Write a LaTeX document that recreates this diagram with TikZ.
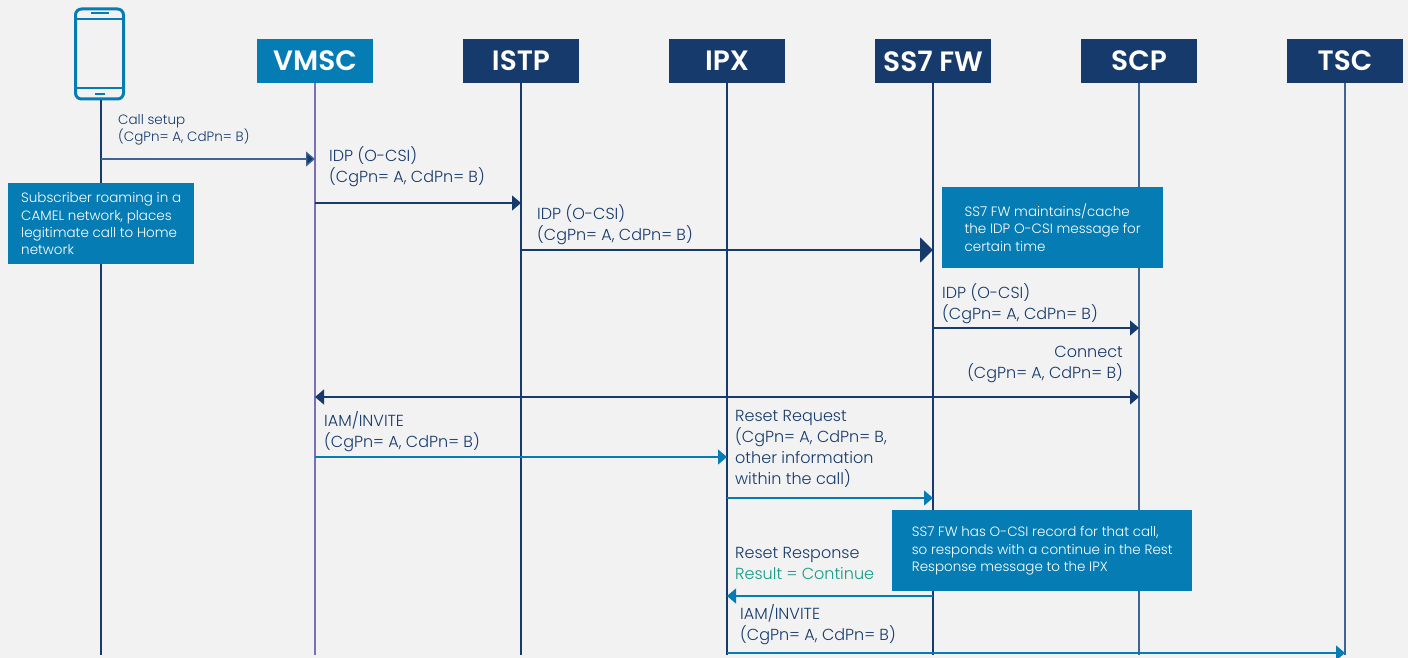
\documentclass[tikz,border=0pt]{standalone}
\usepackage{fontspec}
\setmainfont{Poppins}[UprightFont=* Light,BoldFont=* SemiBold]
\usepackage{xcolor}
\usepackage{tikz}
\usetikzlibrary{arrows.meta}
\definecolor{paper}{HTML}{F2F2F2}
\definecolor{navy}{HTML}{163A6B}
\definecolor{teal}{HTML}{057DB4}
\definecolor{violet}{HTML}{7B6FB8}
\definecolor{slate}{HTML}{3F6490}
\definecolor{green}{HTML}{149A84}
\tikzset{
  head/.style={fill=navy, text=white, minimum width=116pt, minimum height=44pt, inner sep=0pt, font=\fontsize{28}{30}\selectfont\bfseries},
  life/.style={draw=navy, line width=1.2pt},
  msg/.style={draw=navy, line width=1.3pt, -{Triangle[length=9pt,width=15pt]}},
  msgb/.style={draw=teal, line width=1.3pt, -{Triangle[length=9pt,width=15pt]}},
  lab/.style={text=navy, align=left, inner sep=0pt, font=\fontsize{16}{21}\selectfont},
  labs/.style={text=navy, align=left, inner sep=0pt, font=\fontsize{13.5}{17.5}\selectfont},
  note/.style={fill=teal, text=white, align=left, anchor=north west, inner ysep=0pt, font=\fontsize{13.5}{17.4}\selectfont},
}
\begin{document}
\begin{tikzpicture}[x=1pt,y=-1pt]
  \fill[paper] (0,0) rectangle (1408,658);
  \useasboundingbox (0,0) rectangle (1408,658);
  % heads
  \node[draw=teal, line width=3pt, rounded corners=6pt, minimum width=48pt, minimum height=90pt, inner sep=0pt] (phone) at (99.5,54) {};
  \node[head, fill=teal] (vmsc) at (315,61) {VMSC};
  \node[head] (istp) at (521,61) {ISTP};
  \node[head] (ipx) at (727,61) {IPX};
  \node[head] (fw) at (933,61) {SS7 FW};
  \node[head] (scp) at (1139,61) {SCP};
  \node[head] (tsc) at (1345,61) {TSC};
  % phone details
  \coordinate (pa1) at (75,19);
  \coordinate (pa2) at (124,19);
  \coordinate (pb1) at (75,88);
  \coordinate (pb2) at (124,88);
  \coordinate (pc1) at (91,13.5);
  \coordinate (pc2) at (109,13.5);
  \coordinate (pd1) at (95,94.5);
  \coordinate (pd2) at (105,94.5);
  \draw[teal, line width=2pt] (pa1)--(pa2);
  \draw[teal, line width=2pt] (pb1)--(pb2);
  \draw[teal, line width=2pt] (pc1)--(pc2);
  \draw[teal, line width=2pt] (pd1)--(pd2);
  % lifelines
  \coordinate (endp) at (101,655);
  \coordinate (endv) at (315,655);
  \coordinate (endi) at (521,655);
  \coordinate (endx) at (727,655);
  \coordinate (endf) at (933,655);
  \coordinate (ends) at (1139,655);
  \coordinate (endt) at (1345,655);
  \draw[life] (phone.south -| endp)--(endp);
  \draw[life, draw=violet, line width=1.6pt] (vmsc)--(endv);
  \draw[life] (istp)--(endi);
  \draw[life] (ipx)--(endx);
  \draw[life] (fw)--(endf);
  \draw[life, draw=slate] (scp)--(ends);
  \draw[life, draw=slate] (tsc)--(endt);
  \fill[teal] (vmsc.north west) rectangle (vmsc.south east);
  \node[head, fill=teal] at (vmsc) {VMSC};
  % messages
  \coordinate (m1a) at (101,159);
  \coordinate (m1b) at (315,159);
  \coordinate (m2a) at (315,203);
  \coordinate (m2b) at (521,203);
  \coordinate (m3a) at (521,250);
  \coordinate (m3b) at (933,250);
  \coordinate (m4a) at (933,328);
  \coordinate (m4b) at (1139,328);
  \coordinate (m5a) at (315,397);
  \coordinate (m5b) at (1139,397);
  \coordinate (m6a) at (315,457);
  \coordinate (m6b) at (727,457);
  \coordinate (m7a) at (727,498);
  \coordinate (m7b) at (933,498);
  \coordinate (m8a) at (933,596);
  \coordinate (m8b) at (727,596);
  \coordinate (m9a) at (727,653);
  \coordinate (m9b) at (1345,653);
  \draw[msg, draw=slate, -{Triangle[length=9pt,width=15pt,fill=navy]}] (m1a)--(m1b);
  \draw[msg] (m2a)--(m2b);
  \draw[msg, line width=2pt, -{Triangle[length=13pt,width=25pt]}] (m3a)--(m3b);
  \draw[msg] (m4a)--(m4b);
  \draw[msg, {Triangle[length=9pt,width=15pt]}-{Triangle[length=9pt,width=15pt]}] (m5a)--(m5b);
  \draw[msgb] (m6a)--(m6b);
  \draw[msgb] (m7a)--(m7b);
  \draw[msgb] (m8a)--(m8b);
  \draw[msgb] (m9a)--(m9b);
  % labels
  \node[labs, anchor=west] (l1) at (118,130) {Call setup\\(CgPn= A, CdPn= B)};
  \node[lab, anchor=west] (l2) at (329,167) {IDP (O-CSI)\\(CgPn= A, CdPn= B)};
  \node[lab, anchor=west] (l3) at (537,225) {IDP (O-CSI)\\(CgPn= A, CdPn= B)};
  \node[lab, anchor=west] (l4) at (942,304) {IDP (O-CSI)\\(CgPn= A, CdPn= B)};
  \node[lab, anchor=east, align=right] (l5) at (1123,364) {Connect\\(CgPn= A, CdPn= B)};
  \node[lab, anchor=west] (l6) at (324,432) {IAM/INVITE\\(CgPn= A, CdPn= B)};
  \node[lab, anchor=west] (l7) at (735,449) {Reset Request\\(CgPn= A, CdPn= B,\\other information\\within the call)};
  \node[lab, anchor=west] (l8) at (735,563) {Reset Response\\\textcolor{green}{Result = Continue}};
  \node[lab, anchor=west] (l9) at (740,625) {IAM/INVITE\\(CgPn= A, CdPn= B)};
  % notes
  \node[note, inner xsep=8pt, minimum width=186pt, minimum height=81pt] (n1) at (8,183) {Subscriber roaming in a\\CAMEL network, places\\legitimate call to Home\\network};
  \node[note, inner xsep=14pt, minimum width=221pt, minimum height=81pt] (n2) at (942,187) {SS7 FW maintains/cache\\the IDP O-CSI message for\\certain time};
  \node[note, inner xsep=15pt, minimum width=300pt, minimum height=81pt] (n3) at (892,510) {SS7 FW has O-CSI record for that call,\\so responds with a continue in the Rest\\Response message to the IPX};
\end{tikzpicture}
\end{document}
